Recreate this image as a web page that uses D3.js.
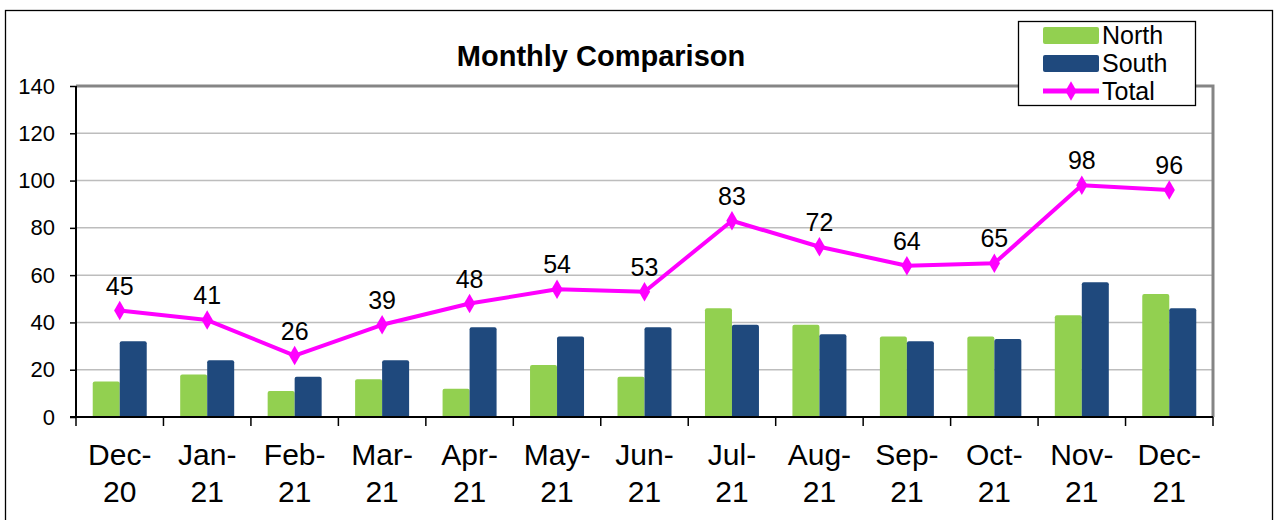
<!DOCTYPE html>
<html><head><meta charset="utf-8">
<script src="https://cdn.jsdelivr.net/npm/d3@7"></script>
<style>
html,body{margin:0;padding:0;background:#fff;}
svg{display:block;font-family:"Liberation Sans",Arial,sans-serif;}
</style></head>
<body>
<svg id="chart" width="1282" height="520"></svg>
<script>
const months = ["Dec-20","Jan-21","Feb-21","Mar-21","Apr-21","May-21","Jun-21","Jul-21","Aug-21","Sep-21","Oct-21","Nov-21","Dec-21"];
const north = [15,18,11,16,12,22,17,46,39,34,34,43,52];
const south = [32,24,17,24,38,34,38,39,35,32,33,57,46];
const total = [45,41,26,39,48,54,53,83,72,64,65,98,96];
const yTicks = [0,20,40,60,80,100,120,140];
const seriesNames = ["North","South","Total"];

const svg = d3.select("#chart");
const L = 76, R = 1213, T = 86, B = 417;
const green = "#92D050", blue = "#1F497D", magenta = "#FF00FF";

// outer border
svg.append("rect").attr("x",5.5).attr("y",10.5).attr("width",1267).attr("height",520)
  .attr("fill","#fff").attr("stroke","#000").attr("stroke-width",1.3);

const x = d3.scaleBand().domain(months).range([L,R]).paddingInner(0).paddingOuter(0);
const xi = d3.scaleBand().domain(["n","s"]).range([0,54]);
const y = d3.scaleLinear().domain([0,140]).range([B,T]);

// gridlines
svg.append("g").selectAll("line").data(yTicks.filter(d=>d>0 && d<140)).join("line")
  .attr("x1",L).attr("x2",R).attr("y1",d=>y(d)).attr("y2",d=>y(d))
  .attr("stroke","#bdbdbd").attr("stroke-width",1.5);
// top & right border of plot
svg.append("path").attr("d",`M${L},${y(140)}H${R}V${B}`).attr("fill","none")
  .attr("stroke","#858585").attr("stroke-width",3);

// bars
const off = (x.bandwidth()-54)/2;
const g = svg.append("g");
months.forEach((m,i)=>{
  [["n",north[i],green],["s",south[i],blue]].forEach(([k,v,c])=>{
    const bx = x(m)+off+xi(k), bw = xi.bandwidth(), by = y(v);
    const r = 2;
    g.append("path")
      .attr("d",`M${bx},${B}V${by+r}Q${bx},${by} ${bx+r},${by}H${bx+bw-r}Q${bx+bw},${by} ${bx+bw},${by+r}V${B}Z`)
      .attr("fill",c);
  });
});

// axes
const yAxis = d3.axisLeft(y).tickValues(yTicks).tickSize(6).tickPadding(15);
const ya = svg.append("g").attr("transform",`translate(${L},0)`).call(yAxis);
ya.select(".domain").attr("stroke","#000").attr("stroke-width",2).attr("d",`M0,${T}V${B}`);
ya.selectAll(".tick line").attr("stroke","#000").attr("stroke-width",1.5);
ya.selectAll(".tick text").attr("font-size",22).attr("fill","#000")
  .attr("font-family","'Liberation Sans',Arial,sans-serif");

// x axis
svg.append("line").attr("x1",L-6).attr("x2",R).attr("y1",B).attr("y2",B).attr("stroke","#000").attr("stroke-width",2);
const bounds = months.map(m=>x(m)).concat([R]);
svg.append("g").selectAll("line").data(bounds).join("line")
  .attr("x1",d=>d).attr("x2",d=>d).attr("y1",B).attr("y2",B+9)
  .attr("stroke","#000").attr("stroke-width",1.5);
const xl = svg.append("g").selectAll("text").data(months).join("text")
  .attr("transform",d=>`translate(${x(d)+x.bandwidth()/2},465)`)
  .attr("text-anchor","middle").attr("font-size",30).attr("fill","#000");
xl.append("tspan").attr("x",0).attr("y",0).text(d=>d.split("-")[0]+"-");
xl.append("tspan").attr("x",0).attr("y",37).text(d=>d.split("-")[1]);

// total line
const cx = m => x(m)+x.bandwidth()/2;
const line = d3.line().x((d,i)=>cx(months[i])).y(d=>y(d));
svg.append("path").datum(total).attr("d",line).attr("fill","none")
  .attr("stroke",magenta).attr("stroke-width",4).attr("stroke-linejoin","round");
const diamond = d3.symbol().type(d3.symbolDiamond).size(110);
svg.append("g").selectAll("path").data(total).join("path")
  .attr("transform",(d,i)=>`translate(${cx(months[i])},${y(d)})`)
  .attr("d",diamond).attr("fill",magenta);
svg.append("g").selectAll("text").data(total).join("text")
  .attr("x",(d,i)=>cx(months[i])).attr("y",d=>y(d)-16)
  .attr("text-anchor","middle").attr("font-size",25).attr("fill","#000").text(d=>d);

// title
svg.append("text").attr("x",601).attr("y",66).attr("text-anchor","middle")
  .attr("font-size",29).attr("font-weight","bold").attr("fill","#000").text("Monthly Comparison");

// legend
const lg = svg.append("g");
lg.append("rect").attr("x",1018.5).attr("y",21.5).attr("width",177).attr("height",84)
  .attr("fill","#fff").attr("stroke","#000").attr("stroke-width",1.3);
const ly = [35.5, 63.5, 91];
seriesNames.forEach((s,i)=>{
  if(i<2){
    lg.append("rect").attr("x",1043).attr("y",ly[i]-8.5).attr("width",56).attr("height",17).attr("rx",2)
      .attr("fill",i===0?green:blue);
  } else {
    lg.append("line").attr("x1",1043).attr("x2",1099).attr("y1",ly[i]).attr("y2",ly[i])
      .attr("stroke",magenta).attr("stroke-width",5);
    lg.append("path").attr("transform",`translate(1071,${ly[i]})`).attr("d",diamond).attr("fill",magenta);
  }
  lg.append("text").attr("x",1102).attr("y",ly[i]+8.5).attr("font-size",25).attr("fill","#000").text(s);
});
</script>
</body></html>
